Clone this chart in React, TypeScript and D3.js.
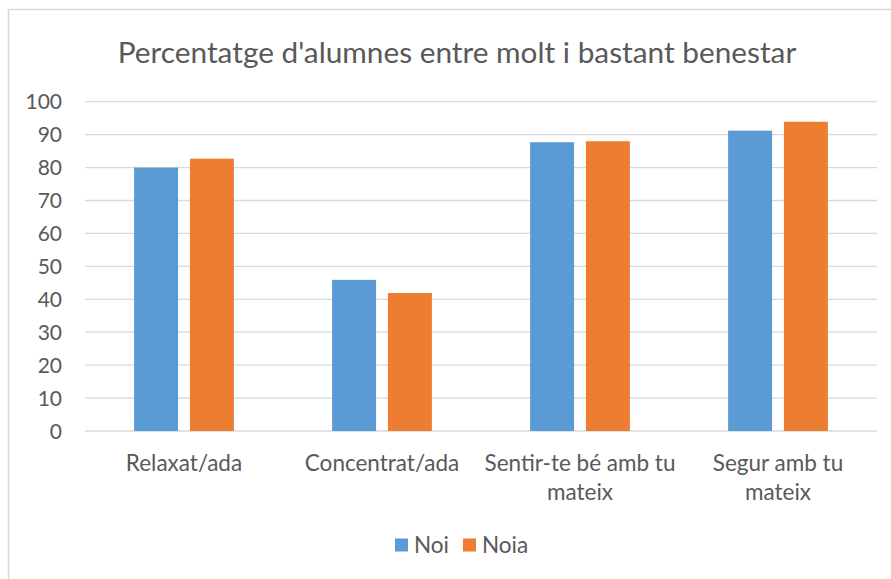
import { useMemo } from "react";
import * as d3 from "d3";

const categories = ["Relaxat/ada", "Concentrat/ada", "Sentir-te bé amb tu mateix", "Segur amb tu mateix"];
const categoryLines = [["Relaxat/ada"], ["Concentrat/ada"], ["Sentir-te bé amb tu", "mateix"], ["Segur amb tu", "mateix"]];
const seriesNames = ["Noi", "Noia"];
const noiValues = [80.0, 45.9, 87.7, 91.2];
const noiaValues = [82.7, 41.9, 88.0, 93.9];
const yTicks = [0, 10, 20, 30, 40, 50, 60, 70, 80, 90, 100];

const COLORS = ["#5B9BD5", "#ED7D31"];
const WIDTH = 891;
const HEIGHT = 579;
const PLOT = { left: 85, right: 877, top: 101.7, bottom: 431 };
const FONT = "Lato, 'Open Sans', sans-serif";
const TEXT = "#595959";

export default function App() {
  const x = useMemo(
    () => d3.scaleBand().domain(categories).range([PLOT.left, PLOT.right]).paddingInner(0),
    []
  );
  const y = useMemo(
    () => d3.scaleLinear().domain([0, 100]).range([PLOT.bottom, PLOT.top]),
    []
  );

  const band = x.bandwidth();
  const barW = band * 0.222;
  const gap = barW * 0.27;
  const series = [noiValues, noiaValues];

  return (
    <div style={{ position: "absolute", left: 0, top: 0 }}>
      <svg width={WIDTH} height={HEIGHT} style={{ display: "block", fontFamily: FONT }}>
        <rect x={0} y={0} width={WIDTH} height={HEIGHT} fill="#fff" />
        {/* chart border, runs off the right/bottom edge */}
        <rect x={8.5} y={9.5} width={WIDTH + 20} height={HEIGHT + 20} fill="none" stroke="#d9d9d9" strokeWidth={1.5} />

        <text x={457} y={63} textAnchor="middle" fontSize={29.8} fill={TEXT}>
          Percentatge d'alumnes entre molt i bastant benestar
        </text>

        {/* gridlines + y labels */}
        {yTicks.map((t) => (
          <g key={t}>
            <line x1={PLOT.left} x2={PLOT.right} y1={y(t)} y2={y(t)} stroke="#d9d9d9" strokeWidth={1.3} />
            <text x={62} y={y(t)} dy="0.36em" textAnchor="end" fontSize={21} fill={TEXT}>
              {t}
            </text>
          </g>
        ))}

        {/* bars */}
        {categories.map((c, i) => {
          const cx = (x(c) ?? 0) + band / 2;
          const groupW = barW * 2 + gap;
          return (
            <g key={c}>
              {series.map((vals, s) => (
                <rect
                  key={s}
                  x={cx - groupW / 2 + s * (barW + gap)}
                  y={y(vals[i])}
                  width={barW}
                  height={y(0) - y(vals[i])}
                  fill={COLORS[s]}
                />
              ))}
              {categoryLines[i].map((line, k) => (
                <text key={k} x={cx} y={471 + k * 29} textAnchor="middle" fontSize={22.5} fill={TEXT}>
                  {line}
                </text>
              ))}
            </g>
          );
        })}

        {/* legend */}
        {seriesNames.map((name, s) => {
          const lx = s === 0 ? 395 : 463;
          return (
            <g key={name}>
              <rect x={lx} y={538.5} width={13} height={13} fill={COLORS[s]} />
              <text x={lx + 19} y={552.5} fontSize={22.5} fill={TEXT}>
                {name}
              </text>
            </g>
          );
        })}
      </svg>
    </div>
  );
}
